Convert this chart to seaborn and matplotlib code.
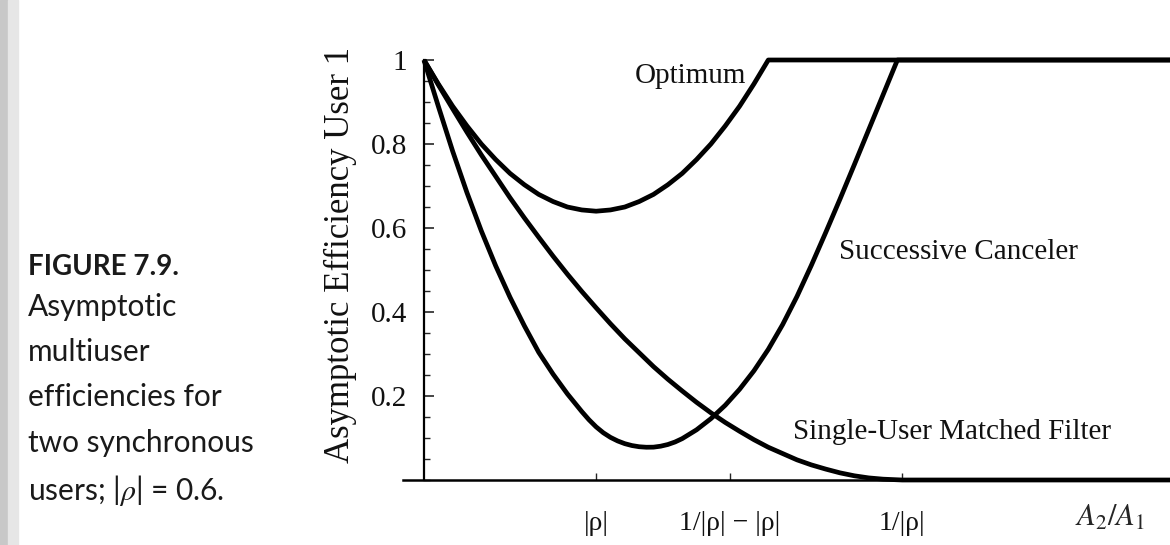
import pandas as pd
import numpy as np
import matplotlib.pyplot as plt
import seaborn as sns
from matplotlib.patches import Rectangle
from matplotlib.ticker import MultipleLocator

# values (|rho| = 0.6)
ratio_opt = [0.0, 0.05, 0.1, 0.15, 0.2, 0.25, 0.3, 0.35, 0.4, 0.45, 0.5, 0.55, 0.6,
             0.65, 0.7, 0.75, 0.8, 0.85, 0.9, 0.95, 1.0, 1.05, 1.1, 1.15, 1.2, 2.6]
eff_opt = [1.0, 0.943, 0.89, 0.843, 0.80, 0.763, 0.73, 0.703, 0.68, 0.663, 0.65, 0.643, 0.64,
           0.643, 0.65, 0.663, 0.68, 0.703, 0.73, 0.763, 0.80, 0.843, 0.89, 0.943, 1.0, 1.0]

ratio_sc = [0.0, 0.05, 0.1, 0.15, 0.2, 0.25, 0.3, 0.35, 0.4, 0.45, 0.5, 0.55, 0.575, 0.6,
            0.625, 0.65, 0.675, 0.7, 0.725, 0.75, 0.775, 0.8, 0.825, 0.85, 0.875, 0.9, 0.95,
            1.0, 1.05, 1.1, 1.15, 1.2, 1.25, 1.3, 1.35, 1.4, 1.45, 1.5, 1.55, 1.6, 1.65, 2.6]
eff_sc = [1.0, 0.89, 0.783, 0.684, 0.593, 0.51, 0.435, 0.367, 0.304, 0.252, 0.205, 0.163, 0.1435,
          0.1265, 0.1125, 0.1015, 0.093, 0.0865, 0.082, 0.0792, 0.078, 0.0782, 0.0805, 0.0845,
          0.0905, 0.0985, 0.1195, 0.146, 0.178, 0.216, 0.26, 0.311, 0.37, 0.437, 0.511, 0.589,
          0.669, 0.751, 0.834, 0.917, 1.0, 1.0]

ratio_mf = [0.0, 0.05, 0.1, 0.15, 0.2, 0.25, 0.3, 0.35, 0.4, 0.45, 0.5, 0.55, 0.6,
            0.65, 0.7, 0.75, 0.8, 0.85, 0.9, 0.95, 1.0, 1.05, 1.1, 1.15, 1.2, 1.25,
            1.3, 1.35, 1.4, 1.45, 1.5, 1.55, 1.6, 1.667, 2.6]
eff_mf = [1.0, 0.941, 0.884, 0.828, 0.774, 0.723, 0.672, 0.624, 0.578, 0.533, 0.49, 0.449, 0.41,
          0.372, 0.336, 0.303, 0.27, 0.24, 0.212, 0.185, 0.16, 0.137, 0.116, 0.096, 0.078, 0.063,
          0.048, 0.036, 0.026, 0.017, 0.01, 0.005, 0.002, 0.0, 0.0]

xtick_vals = [0.6, 1.0667, 1.6667]
xtick_labels = ['|ρ|', '1/|ρ| − |ρ|', '1/|ρ|']
ytick_vals = [0.2, 0.4, 0.6, 0.8, 1.0]
ytick_labels = ['0.2', '0.4', '0.6', '0.8', '1']

df = pd.concat([
    pd.DataFrame({'ratio': ratio_opt, 'eff': eff_opt, 'curve': 'Optimum'}),
    pd.DataFrame({'ratio': ratio_sc, 'eff': eff_sc, 'curve': 'Successive Canceler'}),
    pd.DataFrame({'ratio': ratio_mf, 'eff': eff_mf, 'curve': 'Single-User Matched Filter'}),
])

sns.set_style("white")
plt.rcParams['font.family'] = ['Liberation Serif', 'DejaVu Serif']
plt.rcParams['mathtext.fontset'] = 'stix'

fig = plt.figure(figsize=(11.7, 5.45), dpi=100)
ax = fig.add_axes([403 / 1170, 65 / 545, 767 / 1170, 420 / 545])

sns.lineplot(data=df, x='ratio', y='eff', hue='curve', units='curve', estimator=None,
             palette=['black'] * 3, linewidth=3.4, legend=False, ax=ax)
for ln in ax.lines:
    ln.set_clip_on(False)
    ln.set_solid_capstyle('butt')
    ln.set_solid_joinstyle('round')

ax.set_xlim(-0.073, 2.6)
ax.set_ylim(0, 1)
sns.despine(ax=ax)
ax.spines['left'].set_position(('data', 0))
ax.spines['left'].set_linewidth(1.6)
ax.spines['bottom'].set_linewidth(1.8)
ax.spines['left'].set_color('black')
ax.spines['bottom'].set_color('black')

ax.set_yticks(ytick_vals)
ax.set_yticklabels(ytick_labels, fontsize=21, color='#111111')
ax.yaxis.set_minor_locator(MultipleLocator(0.05))
ax.tick_params(axis='y', which='major', direction='in', length=7, width=1.2, pad=12, left=True)
ax.tick_params(axis='y', which='minor', direction='in', length=4, width=1.0, left=True)
ax.set_xticks(xtick_vals)
ax.set_xticklabels(xtick_labels, fontsize=20, color='#111111')
ax.tick_params(axis='x', which='major', direction='in', length=5, width=1.0, pad=22, bottom=True)

ax.set_xlabel('')
ax.set_ylabel('Asymptotic Efficiency User 1', fontsize=25, color='#111111')
ax.yaxis.set_label_coords(-0.06, 0.535)

ax.text(0.927, 0.962, 'Optimum', fontsize=21, ha='center', va='center', color='#111111')
ax.text(1.861, 0.543, 'Successive Canceler', fontsize=21, ha='center', va='center', color='#111111')
ax.text(1.840, 0.114, 'Single-User Matched Filter', fontsize=21, ha='center', va='center',
        color='#111111')
fig.text(1110 / 1170, 1 - 518 / 545, r'$A_2/A_1$', fontsize=22, ha='center', va='center')

# caption block on the left
cap_x = 28 / 1170
cap_font = ['Lato', 'DejaVu Sans']
fig.text(cap_x, 1 - 267 / 545, 'FIGURE 7.9.', fontsize=20, fontweight='bold',
         family=cap_font, color='#1a1a1a', va='center')
cap_lines = ['Asymptotic', 'multiuser', 'efficiencies for', 'two synchronous']
cap_y = [307, 352, 397, 443]
for t, yy in zip(cap_lines, cap_y):
    fig.text(cap_x, 1 - yy / 545, t, fontsize=21.5, family=cap_font,
             color='#1a1a1a', va='center')
fig.text(cap_x, 1 - 490 / 545, r'users; |$\rho$| = 0.6.', fontsize=21.5,
         family=cap_font, math_fontfamily='stix', color='#1a1a1a', va='center')

fig.patches.append(Rectangle((0, 0), 8 / 1170, 1, transform=fig.transFigure,
                             color='#c8c8c8', zorder=-1))
fig.patches.append(Rectangle((8 / 1170, 0), 10 / 1170, 1, transform=fig.transFigure,
                             color='#e6e6e6', zorder=-1))

fig.savefig('out.png', dpi=100)
